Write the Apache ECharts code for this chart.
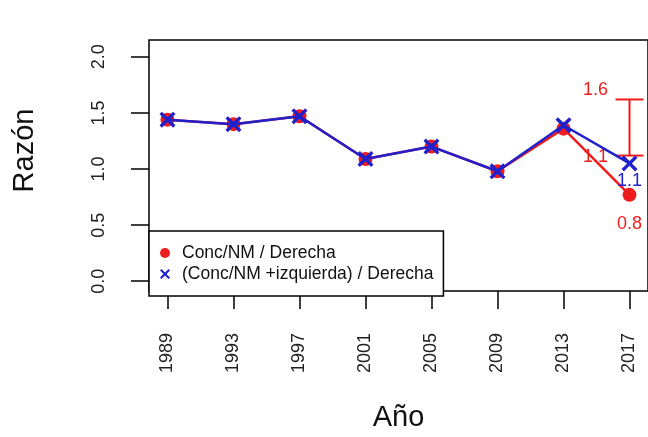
<!DOCTYPE html>
<html>
<head>
<meta charset="utf-8">
<script src="https://cdn.jsdelivr.net/npm/echarts@6/dist/echarts.min.js"></script>
<style>
  html, body { margin: 0; padding: 0; background: #fff; }
  #chart { width: 648px; height: 437px; }
</style>
</head>
<body>
<div id="chart"></div>
<script>
// datos
var years = [1989, 1993, 1997, 2001, 2005, 2009, 2013, 2017];
var concNM = [1.44, 1.40, 1.47, 1.09, 1.20, 0.98, 1.36, 0.77];
var concNMIzq = [1.44, 1.40, 1.47, 1.09, 1.20, 0.98, 1.39, 1.05];
var errorBar = [[2017, 1.12, 1.62]]; // año, inferior, superior
var yTicks = [0, 0.5, 1, 1.5, 2];

var RED = '#ee1c1c';
var BLUE = '#2020cc';
var FONT = 'Liberation Sans, Arial, sans-serif';
var XMARK = 'path://M0,3 L3,0 L10,7 L17,0 L20,3 L13,10 L20,17 L17,20 L10,13 L3,20 L0,17 L7,10 Z';

function buildData(vals, lastLabel) {
  return years.map(function (y, i) {
    var item = { value: [y, vals[i]] };
    if (i === years.length - 1) {
      item.label = Object.assign({ show: true, position: 'bottom',
        formatter: vals[i].toFixed(1), fontSize: 18, fontFamily: FONT }, lastLabel);
    }
    return item;
  });
}

var myChart = echarts.init(document.getElementById('chart'));
myChart.setOption({
  animation: false,
  textStyle: { fontFamily: FONT },
  grid: {
    left: 149, top: 40, width: 502, height: 256,
    show: true, borderColor: '#000', borderWidth: 1.5, backgroundColor: 'transparent'
  },
  legend: {
    orient: 'vertical',
    left: 149, top: 231,
    padding: [13, 10, 13, 11],
    itemWidth: 10, itemHeight: 10, itemGap: 3,
    borderColor: '#000', borderWidth: 1.5, borderRadius: 0,
    backgroundColor: '#fff',
    selectedMode: false,
    textStyle: { fontSize: 17.5, color: '#111', fontFamily: FONT, padding: [0, 0, 0, 7] },
    data: [
      { name: 'Conc/NM / Derecha', icon: 'circle' },
      { name: '(Conc/NM +izquierda) / Derecha', icon: XMARK }
    ],
    z: 10
  },
  xAxis: {
    type: 'value',
    min: 1987.88, max: 2018.12,
    name: 'Año', nameLocation: 'middle', nameGap: 112,
    nameTextStyle: { fontSize: 29, color: '#111', fontFamily: FONT },
    axisLine: { show: false, onZero: false },
    axisTick: { show: true, customValues: years, length: 18, lineStyle: { color: '#000', width: 1.5 } },
    axisLabel: { customValues: years, rotate: 90, margin: 42, fontSize: 18, color: '#222',
      formatter: function (v) { return String(v); } },
    splitLine: { show: false }
  },
  yAxis: {
    type: 'value',
    min: -0.087, max: 2.15,
    name: 'Razón', nameLocation: 'middle', nameGap: 110,
    nameTextStyle: { fontSize: 29, color: '#111', fontFamily: FONT, padding: [0, 0, 0, 30] },
    axisLine: { show: false, onZero: false },
    axisTick: { show: true, customValues: yTicks, length: 18, lineStyle: { color: '#000', width: 1.5 } },
    axisLabel: { customValues: yTicks, rotate: 90, margin: 41, fontSize: 18, color: '#222',
      formatter: function (v) { return v.toFixed(1); } },
    splitLine: { show: false }
  },
  series: [
    {
      type: 'custom',
      z: 1,
      data: errorBar,
      renderItem: function (params, api) {
        var x = api.value(0);
        var lo = api.coord([x, api.value(1)]);
        var hi = api.coord([x, api.value(2)]);
        var cap = 14;
        var st = { stroke: RED, lineWidth: 2 };
        var ts = { fill: RED, fontSize: 18, fontFamily: FONT, align: 'center', verticalAlign: 'middle' };
        return {
          type: 'group',
          children: [
            { type: 'line', shape: { x1: hi[0], y1: hi[1], x2: lo[0], y2: lo[1] }, style: st },
            { type: 'line', shape: { x1: hi[0] - cap, y1: hi[1], x2: hi[0] + cap, y2: hi[1] }, style: st },
            { type: 'line', shape: { x1: lo[0] - cap, y1: lo[1], x2: lo[0] + cap, y2: lo[1] }, style: st },
            { type: 'text', style: Object.assign({ text: api.value(2).toFixed(1), x: hi[0] - 34, y: hi[1] - 9 }, ts) },
            { type: 'text', style: Object.assign({ text: api.value(1).toFixed(1), x: lo[0] - 34, y: lo[1] + 1 }, ts) }
          ]
        };
      }
    },
    {
      name: 'Conc/NM / Derecha',
      type: 'line',
      data: buildData(concNM, { color: RED, distance: 13 }),
      symbol: 'circle', symbolSize: 14,
      itemStyle: { color: RED },
      lineStyle: { color: RED, width: 2.5 },
      z: 2
    },
    {
      name: '(Conc/NM +izquierda) / Derecha',
      type: 'line',
      data: buildData(concNMIzq, { color: BLUE, distance: 1 }),
      symbol: XMARK, symbolSize: 16,
      itemStyle: { color: BLUE },
      lineStyle: { color: BLUE, width: 2.5 },
      z: 3
    }
  ]
});
</script>
</body>
</html>
